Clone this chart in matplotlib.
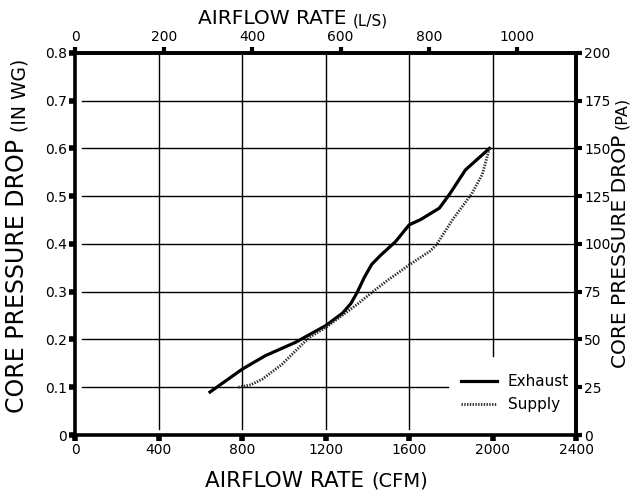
import matplotlib

matplotlib.use("Agg")

import matplotlib.pyplot as plt

plt.rcParams["font.family"] = ["DejaVu Sans"]

# airflow rate (CFM) and core pressure drop (in WG)
exhaust_cfm = [645, 800, 910, 1055, 1200, 1280, 1320, 1350, 1385, 1420, 1460,
               1535, 1600, 1655, 1745, 1795, 1870, 1985]
exhaust_inwg = [0.09, 0.138, 0.166, 0.194, 0.229, 0.255, 0.275, 0.298, 0.33,
                0.357, 0.375, 0.405, 0.44, 0.451, 0.475, 0.505, 0.555, 0.6]

supply_cfm = [781, 840, 896, 990, 1120, 1200, 1343, 1440, 1500, 1600, 1700,
              1730, 1810, 1900, 1950, 1985]
supply_inwg = [0.1, 0.105, 0.117, 0.148, 0.204, 0.225, 0.271, 0.305, 0.325,
               0.356, 0.385, 0.398, 0.452, 0.505, 0.545, 0.6]

cfm_ticks = [0, 400, 800, 1200, 1600, 2000, 2400]
inwg_ticks = [0, 0.1, 0.2, 0.3, 0.4, 0.5, 0.6, 0.7, 0.8]
inwg_labels = ["0", "0.1", "0.2", "0.3", "0.4", "0.5", "0.6", "0.7", "0.8"]
ls_ticks = [0, 200, 400, 600, 800, 1000]
pa_ticks = [0, 25, 50, 75, 100, 125, 150, 175, 200]

CFM_PER_LS = 2.119
PA_PER_INWG = 250

fig = plt.figure(figsize=(6.36, 4.9), dpi=100)
ax = fig.add_axes([0.1187, 0.1122, 0.787, 0.780])
ax.set_xlim(0, 2400)
ax.set_ylim(0, 0.8)

# grid lines stop short of the frame, and the legend corner is left blank
for x in cfm_ticks[1:-1]:
    top = 0.795
    bottom = 0.165 if x == 2000 else 0.012
    ax.plot([x, x], [bottom, top], color="black", lw=1.0, zorder=1)
for y in inwg_ticks[1:-1]:
    right = 1785 if y == 0.1 else 2385
    ax.plot([30, right], [y, y], color="black", lw=1.0, zorder=1)

ax.plot(exhaust_cfm, exhaust_inwg, color="black", lw=2.3, label="Exhaust",
        zorder=3, solid_joinstyle="round")
ax.plot(supply_cfm, supply_inwg, color="#2a2a2a", lw=2.0,
        linestyle=(0, (0.5, 0.5)), label="Supply", zorder=3)

for side in ["left", "right", "top", "bottom"]:
    ax.spines[side].set_linewidth(2.6)

ax.set_xticks(cfm_ticks)
ax.set_yticks(inwg_ticks)
ax.set_yticklabels(inwg_labels)
ax.tick_params(direction="out", length=4, width=4, labelsize=10, pad=2)

top_ax = ax.secondary_xaxis("top", functions=(lambda x: x / CFM_PER_LS,
                                              lambda x: x * CFM_PER_LS))
top_ax.set_xticks(ls_ticks)
top_ax.tick_params(direction="out", length=4, width=3, labelsize=10, pad=2)
top_ax.spines["top"].set_linewidth(2.6)

right_ax = ax.secondary_yaxis("right", functions=(lambda y: y * PA_PER_INWG,
                                                  lambda y: y / PA_PER_INWG))
right_ax.set_yticks(pa_ticks)
right_ax.tick_params(direction="out", length=4, width=3, labelsize=10, pad=2)
right_ax.spines["right"].set_linewidth(2.6)

ax.legend(loc="upper left", bbox_to_anchor=(0.754, 0.179), frameon=False,
          fontsize=11, borderpad=0, handlelength=2.4, handletextpad=0.7,
          labelspacing=0.5)

# axis titles, with the unit part set smaller
t = fig.text(0.3223, 0.0067, "AIRFLOW RATE", fontsize=15.5, va="baseline")
ax.annotate("(CFM)", xy=(1, 0), xycoords=t, xytext=(5, 0),
            textcoords="offset points", fontsize=14, va="bottom")

t = fig.text(0.311, 0.951, "AIRFLOW RATE", fontsize=14.5, va="baseline")
ax.annotate("(L/S)", xy=(1, 0), xycoords=t, xytext=(5, 0),
            textcoords="offset points", fontsize=11, va="bottom")

t = fig.text(0.027, 0.157, "CORE PRESSURE DROP", fontsize=17, rotation=90,
             ha="center", va="bottom")
ax.annotate("(IN WG)", xy=(1, 1), xycoords=t, xytext=(0, 5),
            textcoords="offset points", fontsize=13.5, rotation=90,
            ha="right", va="bottom")

t = fig.text(0.975, 0.249, "CORE PRESSURE DROP", fontsize=14.5, rotation=90,
             ha="center", va="bottom")
ax.annotate("(PA)", xy=(1, 1), xycoords=t, xytext=(0, 4),
            textcoords="offset points", fontsize=11.5, rotation=90,
            ha="right", va="bottom")

fig.savefig("out.png", dpi=100)
